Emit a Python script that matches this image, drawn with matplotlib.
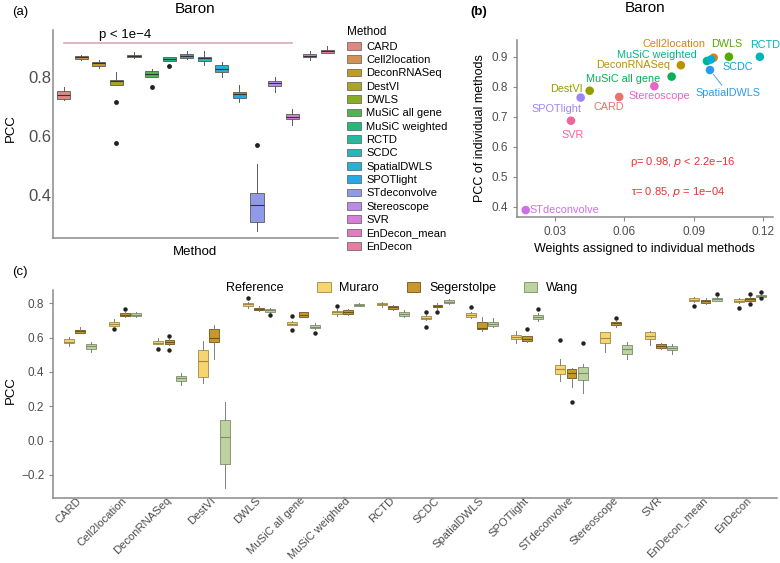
import numpy as np
import matplotlib
matplotlib.use("Agg")
import matplotlib.pyplot as plt
from matplotlib.patches import Patch

plt.rcParams['font.family'] = ['Liberation Sans', 'DejaVu Sans']

# ---- data ----
methods = ["CARD", "Cell2location", "DeconRNASeq", "DestVI", "DWLS", "MuSiC all gene",
           "MuSiC weighted", "RCTD", "SCDC", "SpatialDWLS", "SPOTlight", "STdeconvolve",
           "Stereoscope", "SVR", "EnDecon_mean", "EnDecon"]

# panel (a): Baron, (whislo, q1, median, q3, whishi)
baron_box = [(0.723, 0.726, 0.741, 0.753, 0.768), (0.860, 0.861, 0.867, 0.873, 0.875),
             (0.831, 0.838, 0.847, 0.853, 0.859), (0.773, 0.773, 0.786, 0.791, 0.819),
             (0.865, 0.867, 0.872, 0.876, 0.885), (0.800, 0.800, 0.811, 0.820, 0.827),
             (0.855, 0.855, 0.861, 0.867, 0.868), (0.862, 0.865, 0.873, 0.878, 0.888),
             (0.840, 0.856, 0.864, 0.870, 0.888), (0.802, 0.819, 0.828, 0.840, 0.850),
             (0.717, 0.728, 0.744, 0.749, 0.774), (0.280, 0.308, 0.368, 0.408, 0.505),
             (0.751, 0.770, 0.780, 0.788, 0.802), (0.638, 0.657, 0.666, 0.675, 0.691),
             (0.859, 0.868, 0.873, 0.878, 0.890), (0.881, 0.883, 0.888, 0.893, 0.905)]
baron_out = [[], [], [], [0.717, 0.577], [], [0.768], [0.838], [], [], [], [], [0.569],
             [], [], [], []]

# panel (b): weights vs PCC (14 individual methods)
weights = [0.0578, 0.0987, 0.0845, 0.0450, 0.1053, 0.0805, 0.0958, 0.1187, 0.0975,
           0.0971, 0.0411, 0.0173, 0.0730, 0.0369]
pcc_ind = [0.766, 0.897, 0.872, 0.787, 0.900, 0.834, 0.886, 0.900, 0.891, 0.856,
           0.764, 0.389, 0.802, 0.687]
label_offsets = [(-10, -10), (-40, 14), (-48, 0), (-23, 2), (-2, 13), (-49, -2),
                 (-50, 6), (5, 12), (27, -8), (18, -23), (-24, -11), (39, 0),
                 (5, -10), (2, -14)]

# panel (c): per reference, (whislo, q1, median, q3, whishi)
references = ["Muraro", "Segerstolpe", "Wang"]
muraro_box = [(0.551, 0.567, 0.576, 0.590, 0.602), (0.668, 0.668, 0.678, 0.689, 0.710),
              (0.561, 0.561, 0.570, 0.580, 0.596), (0.337, 0.372, 0.465, 0.528, 0.582),
              (0.772, 0.784, 0.795, 0.803, 0.808), (0.672, 0.672, 0.681, 0.691, 0.700),
              (0.728, 0.736, 0.748, 0.757, 0.765), (0.780, 0.788, 0.794, 0.800, 0.808),
              (0.705, 0.710, 0.717, 0.724, 0.730), (0.712, 0.720, 0.734, 0.742, 0.752),
              (0.571, 0.594, 0.605, 0.617, 0.641), (0.348, 0.386, 0.415, 0.438, 0.474),
              (0.519, 0.567, 0.600, 0.631, 0.635), (0.555, 0.590, 0.611, 0.631, 0.641),
              (0.808, 0.814, 0.821, 0.829, 0.839), (0.803, 0.808, 0.816, 0.823, 0.833)]
muraro_out = [[], [0.648], [0.532], [], [0.831], [0.726, 0.644], [0.786], [], [0.751, 0.660],
              [0.780], [], [0.586], [], [], [0.784], [0.771]]
segerstolpe_box = [(0.625, 0.627, 0.637, 0.646, 0.664), (0.718, 0.724, 0.734, 0.742, 0.748),
                   (0.560, 0.565, 0.574, 0.584, 0.590), (0.473, 0.573, 0.596, 0.650, 0.671),
                   (0.755, 0.760, 0.767, 0.775, 0.783), (0.720, 0.722, 0.735, 0.749, 0.752),
                   (0.733, 0.739, 0.751, 0.763, 0.768), (0.760, 0.767, 0.776, 0.786, 0.792),
                   (0.770, 0.777, 0.784, 0.790, 0.800), (0.637, 0.648, 0.657, 0.691, 0.722),
                   (0.575, 0.579, 0.594, 0.608, 0.612), (0.310, 0.363, 0.392, 0.415, 0.425),
                   (0.665, 0.675, 0.683, 0.691, 0.695), (0.532, 0.538, 0.551, 0.561, 0.567),
                   (0.795, 0.800, 0.812, 0.819, 0.830), (0.812, 0.816, 0.823, 0.829, 0.838)]
segerstolpe_out = [[], [0.765], [0.608, 0.528], [], [], [], [], [], [0.749], [], [0.652],
                   [0.223], [0.714], [], [], [0.852, 0.794]]
wang_box = [(0.518, 0.535, 0.549, 0.563, 0.576), (0.718, 0.724, 0.734, 0.744, 0.748),
            (0.322, 0.349, 0.362, 0.376, 0.394), (-0.278, -0.136, 0.022, 0.120, 0.226),
            (0.745, 0.751, 0.759, 0.767, 0.775), (0.652, 0.656, 0.665, 0.675, 0.684),
            (0.782, 0.784, 0.791, 0.796, 0.800), (0.718, 0.726, 0.738, 0.749, 0.760),
            (0.795, 0.800, 0.810, 0.819, 0.828), (0.660, 0.670, 0.681, 0.691, 0.712),
            (0.700, 0.708, 0.720, 0.732, 0.742), (0.276, 0.351, 0.392, 0.429, 0.446),
            (0.476, 0.506, 0.532, 0.557, 0.573), (0.505, 0.528, 0.540, 0.551, 0.562),
            (0.812, 0.816, 0.823, 0.829, 0.835), (0.836, 0.839, 0.845, 0.849, 0.852)]
wang_out = [[], [], [], [], [0.732], [0.625], [], [], [], [], [0.767], [0.570], [], [], [0.852],
            [0.868, 0.829]]


def hue_pal(n, l=65, c=100):
    # ggplot2-style hue palette (polar Luv -> sRGB)
    hues = np.linspace(15, 375, n + 1)[:n]
    Xn, Yn, Zn = 95.047, 100.0, 108.883
    un = 4 * Xn / (Xn + 15 * Yn + 3 * Zn)
    vn = 9 * Yn / (Xn + 15 * Yn + 3 * Zn)
    M = np.array([[3.2404542, -1.5371385, -0.4985314],
                  [-0.9692660, 1.8760108, 0.0415560],
                  [0.0556434, -0.2040259, 1.0572252]])
    out = []
    for h in hues:
        hr = np.deg2rad(h)
        u, v = c * np.cos(hr), c * np.sin(hr)
        Y = Yn * ((l + 16) / 116) ** 3
        up = u / (13 * l) + un
        vp = v / (13 * l) + vn
        X = Y * 9 * up / (4 * vp)
        Z = Y * (12 - 3 * up - 20 * vp) / (4 * vp)
        rgb = M @ (np.array([X, Y, Z]) / 100)
        rgb = np.where(rgb <= 0.0031308, 12.92 * rgb, 1.055 * np.clip(rgb, 0, None) ** (1 / 2.4) - 0.055)
        out.append(tuple(np.clip(rgb, 0, 1)))
    return out


def to_stats(boxes, outs):
    return [dict(whislo=b[0], q1=b[1], med=b[2], q3=b[3], whishi=b[4], fliers=o)
            for b, o in zip(boxes, outs)]


def style_axis(ax):
    for s in ["top", "right"]:
        ax.spines[s].set_visible(False)
    for s in ["left", "bottom"]:
        ax.spines[s].set_color("#8a8a8a")
        ax.spines[s].set_linewidth(1.1)
    ax.tick_params(colors="#8a8a8a", labelcolor="#4d4d4d", length=3)


W, H = 780, 563
fig = plt.figure(figsize=(7.8, 5.63), dpi=100)
grey = "#5a5a5a"

# ---------------- panel (a) ----------------
cols16 = hue_pal(16, l=60, c=80)
ax_a = fig.add_axes([53 / W, 1 - 238 / H, 285 / W, 208 / H])
bp = ax_a.bxp(to_stats(baron_box, baron_out), positions=np.arange(1, 17), widths=0.75,
              patch_artist=True,
              boxprops=dict(edgecolor=grey, linewidth=0.6),
              medianprops=dict(color="#333333", linewidth=0.8),
              whiskerprops=dict(color=grey, linewidth=0.7),
              capprops=dict(linewidth=0),
              flierprops=dict(marker="o", markerfacecolor="#222222", markeredgecolor="none",
                              markersize=3.5))
for patch, col in zip(bp["boxes"], cols16):
    patch.set_facecolor(col + (0.85,))
ax_a.set_xlim(0.4, 16.6)
ax_a.set_ylim(0.255, 0.96)
ax_a.set_yticks([0.4, 0.6, 0.8])
ax_a.set_xticks([])
style_axis(ax_a)
ax_a.tick_params(axis="y", labelsize=12, length=0, pad=1.5)
ax_a.set_xlabel("Method", fontsize=9.5, labelpad=6)
ax_a.set_ylabel("PCC", fontsize=9.5)
ax_a.yaxis.set_label_coords(17 / W, 1 - 128 / H, transform=fig.transFigure)
ax_a.plot([1, 14], [0.915, 0.915], color="#d9a9b2", linewidth=1.2)
ax_a.text(4.5, 0.922, "p < 1e\u22124", ha="center", va="bottom", fontsize=9.5)
ax_a.set_title("Baron", fontsize=11, pad=12)
fig.text(12 / W, 1 - 12 / H, "(a)", fontsize=9.5, va="center")

handles = [Patch(facecolor=c + (0.85,), edgecolor=grey, linewidth=0.5) for c in cols16]
fig.legend(handles, methods, title="Method", loc="upper left",
           bbox_to_anchor=(343 / W, 1 - 22 / H), frameon=False, fontsize=8,
           title_fontsize=8.5, handlelength=1.2, handleheight=0.7, labelspacing=0.3,
           handletextpad=0.5, borderaxespad=0, alignment="left")

# ---------------- panel (b) ----------------
cols14 = hue_pal(14, l=62, c=90)
ax_b = fig.add_axes([516.7 / W, 1 - 216.7 / H, 256.3 / W, 176.7 / H])
ax_b.scatter(weights, pcc_ind, c=cols14, s=38, edgecolors="none", zorder=3)
for i, m in enumerate(methods[:14]):
    dx, dy = label_offsets[i]
    ax_b.annotate(m, (weights[i], pcc_ind[i]), xytext=(dx, dy), textcoords="offset pixels",
                  ha="center", va="center", fontsize=7.8, color=cols14[i],
                  arrowprops=dict(arrowstyle="-", color=cols14[i], lw=0.6,
                                  shrinkA=0, shrinkB=4) if m == "SpatialDWLS" else None)
ax_b.set_xlim(0.0134, 0.1244)
ax_b.set_ylim(0.367, 0.956)
ax_b.set_xticks([0.03, 0.06, 0.09, 0.12])
ax_b.set_yticks([0.4, 0.5, 0.6, 0.7, 0.8, 0.9])
style_axis(ax_b)
ax_b.tick_params(labelsize=8.5)
ax_b.set_xlabel("Weights assigned to individual methods", fontsize=9)
ax_b.set_ylabel("PCC of individual methods", fontsize=9)
ax_b.text(0.0854, 0.549, "\u03c1= 0.98, $\\it{p}$ < 2.2e\u221216", ha="center", va="center",
          fontsize=8, color="#e8312f")
ax_b.text(0.0833, 0.449, "\u03c4= 0.85, $\\it{p}$ = 1e\u221204", ha="center", va="center",
          fontsize=8, color="#e8312f")
ax_b.set_title("Baron", fontsize=11, pad=20)
fig.text(470 / W, 1 - 12 / H, "(b)", fontsize=9.5, va="center", fontweight="bold")

# ---------------- panel (c) ----------------
ref_fill = ["#f6d470", "#c8982e", "#bcd3a0"]
ref_edge = ["#a08a45", "#6e5518", "#7d8d6c"]
ax_c = fig.add_axes([53.3 / W, 1 - 498.3 / H, 723.7 / W, 208.3 / H])
pos = np.arange(1, 17)
for k, (boxes, outs) in enumerate([(muraro_box, muraro_out), (segerstolpe_box, segerstolpe_out),
                                   (wang_box, wang_out)]):
    bpc = ax_c.bxp(to_stats(boxes, outs), positions=pos + (k - 1) * 0.25, widths=0.22,
                   patch_artist=True,
                   boxprops=dict(facecolor=ref_fill[k], edgecolor=ref_edge[k], linewidth=0.6),
                   medianprops=dict(color=ref_edge[k], linewidth=0.8),
                   whiskerprops=dict(color="#808080", linewidth=0.7),
                   capprops=dict(linewidth=0),
                   flierprops=dict(marker="o", markerfacecolor="#222222", markeredgecolor="none",
                                   markersize=3.2))
ax_c.set_xlim(0.4, 16.6)
ax_c.set_ylim(-0.337, 0.878)
ax_c.set_yticks([-0.2, 0.0, 0.2, 0.4, 0.6, 0.8])
ax_c.set_xticks(pos)
ax_c.set_xticklabels(methods, rotation=45, ha="right", va="center", rotation_mode="anchor")
style_axis(ax_c)
ax_c.tick_params(labelsize=8.5)
ax_c.tick_params(axis="x", length=0, pad=0.5, labelsize=8.1)
ax_c.set_ylabel("PCC", fontsize=9.5)
ax_c.yaxis.set_label_coords(17 / W, 1 - 390 / H, transform=fig.transFigure)
fig.text(12 / W, 1 - 272 / H, "(c)", fontsize=9.5, va="center")

fig.text(255 / W, 1 - 288 / H, "Reference", fontsize=9, ha="center", va="center")
ref_handles = [Patch(facecolor=f, edgecolor=e, linewidth=0.6) for f, e in zip(ref_fill, ref_edge)]
fig.legend(ref_handles, references, loc="center left", bbox_to_anchor=(312 / W, 1 - 288 / H),
           ncol=3, frameon=False, fontsize=9, handlelength=1.1, handleheight=0.8,
           columnspacing=2.2, handletextpad=0.7, borderaxespad=0)

fig.savefig("out.png", dpi=100)
